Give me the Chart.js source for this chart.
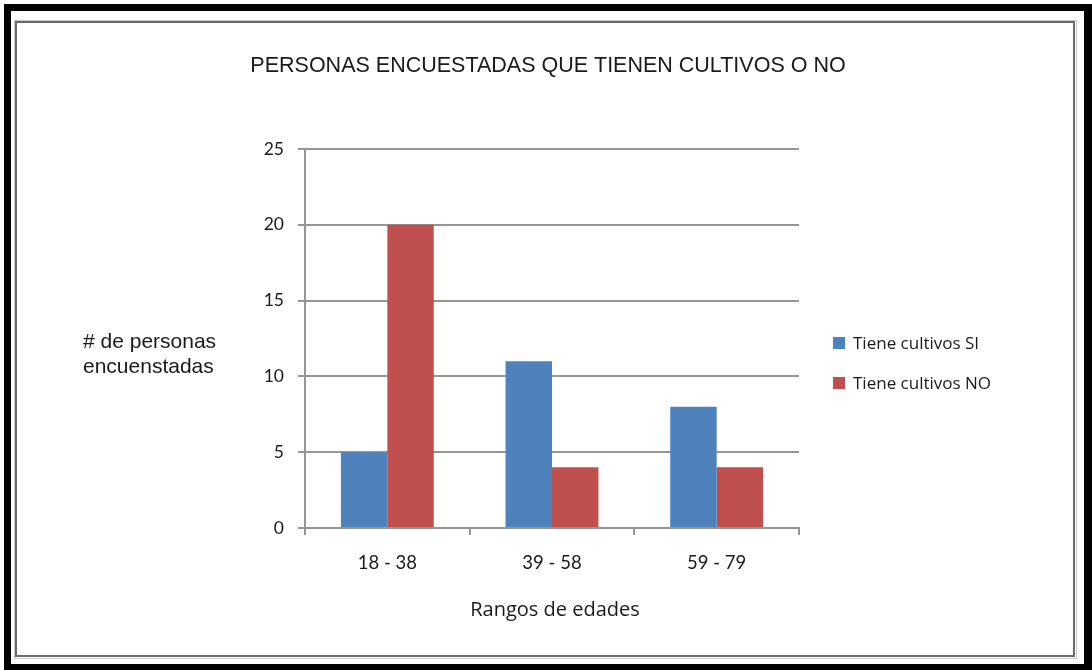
<!DOCTYPE html>
<html>
<head>
<meta charset="utf-8">
<script src="https://cdn.jsdelivr.net/npm/chart.js@4.4.1/dist/chart.umd.min.js"></script>
<style>
html,body{margin:0;padding:0;background:#fff;}
#wrap{width:1092px;height:670px;position:relative;}
canvas{display:block;}
</style>
</head>
<body>
<div id="wrap"><canvas id="c" width="1092" height="670"></canvas></div>
<script>
const chartTitle = "PERSONAS ENCUESTADAS QUE TIENEN CULTIVOS O NO";
const yAxisTitle = ["# de personas", "encuenstadas"];
const xAxisTitle = "Rangos de edades";
const categories = ["18 - 38", "39 - 58", "59 - 79"];
const seriesNames = ["Tiene cultivos SI", "Tiene cultivos NO"];
const valuesSI = [5, 11, 8];
const valuesNO = [20, 4, 4];
const yTicks = [0, 5, 10, 15, 20, 25];

const BLUE = "#4F81BD";
const RED = "#C0504D";
const GRID = "#959595";

const decor = {
  id: "decor",
  beforeDraw(chart) {
    const ctx = chart.ctx;
    ctx.save();
    ctx.fillStyle = "#fff";
    ctx.fillRect(0, 0, chart.width, chart.height);
    // outer black frame
    ctx.fillStyle = "#000";
    ctx.fillRect(4, 4, 1088, 7);
    ctx.fillRect(4, 4, 7, 666);
    ctx.fillRect(1084, 4, 8, 666);
    ctx.fillRect(4, 664, 1088, 6);
    // inner gray frame
    ctx.strokeStyle = "#c8c8c8";
    ctx.lineWidth = 1;
    ctx.strokeRect(14.5, 20.5, 1062, 638);
    ctx.strokeStyle = "#6a6a6a";
    ctx.lineWidth = 2;
    ctx.strokeRect(16, 22, 1058, 634);
    ctx.restore();
  },
  afterDraw(chart) {
    const ctx = chart.ctx;
    const area = chart.chartArea;
    ctx.save();
    ctx.fillStyle = "#1a1a1a";
    ctx.textBaseline = "alphabetic";
    // title
    ctx.font = "21.5px 'Liberation Sans', Arial, sans-serif";
    ctx.textAlign = "center";
    ctx.fillText(chartTitle, 548, 72);
    // y title
    ctx.font = "21px 'Liberation Sans', Arial, sans-serif";
    ctx.textAlign = "left";
    ctx.fillText(yAxisTitle[0], 83, 348);
    ctx.fillText(yAxisTitle[1], 83, 373);
    // x title
    ctx.font = "20px 'Open Sans', Lato, sans-serif";
    ctx.textAlign = "center";
    ctx.fillText(xAxisTitle, (area.left + area.right) / 2 + 3, 616);
    // legend
    const ds = chart.data.datasets;
    ctx.font = "17px 'Open Sans', Lato, sans-serif";
    ctx.textAlign = "left";
    const rows = [343, 383];
    ds.forEach((d, i) => {
      ctx.fillStyle = d.backgroundColor;
      ctx.fillRect(833, rows[i] - 6, 12, 12);
      ctx.fillStyle = "#1a1a1a";
      ctx.fillText(d.label, 853, rows[i] + 6);
    });
    ctx.restore();
  }
};

new Chart(document.getElementById("c"), {
  type: "bar",
  data: {
    labels: categories,
    datasets: [
      { label: seriesNames[0], data: valuesSI, backgroundColor: BLUE, categoryPercentage: 0.564, barPercentage: 1.0 },
      { label: seriesNames[1], data: valuesNO, backgroundColor: RED, categoryPercentage: 0.564, barPercentage: 1.0 }
    ]
  },
  options: {
    responsive: false,
    animation: false,
    events: [],
    layout: { padding: { top: 149, right: 293, left: 0, bottom: 0 } },
    plugins: { legend: { display: false }, title: { display: false }, tooltip: { enabled: false } },
    scales: {
      x: {
        afterFit(scale) { scale.height = 670 - 528; },
        grid: { display: true, drawOnChartArea: false, drawTicks: true, tickLength: 7, color: GRID, lineWidth: 2, offset: true },
        border: { display: true, color: GRID, width: 2 },
        ticks: { color: "#1a1a1a", font: { family: "Lato, 'Open Sans', sans-serif", size: 18.5 }, padding: 17 }
      },
      y: {
        min: 0, max: 25,
        afterFit(scale) { scale.width = 305; },
        afterBuildTicks(scale) { scale.ticks = yTicks.map(v => ({ value: v })); },
        grid: { display: true, drawOnChartArea: true, drawTicks: true, tickLength: 7, color: GRID, lineWidth: 2 },
        border: { display: true, color: GRID, width: 2 },
        ticks: { color: "#1a1a1a", font: { family: "Lato, 'Open Sans', sans-serif", size: 17.5 }, padding: 14 }
      }
    }
  },
  plugins: [decor]
});
</script>
</body>
</html>
